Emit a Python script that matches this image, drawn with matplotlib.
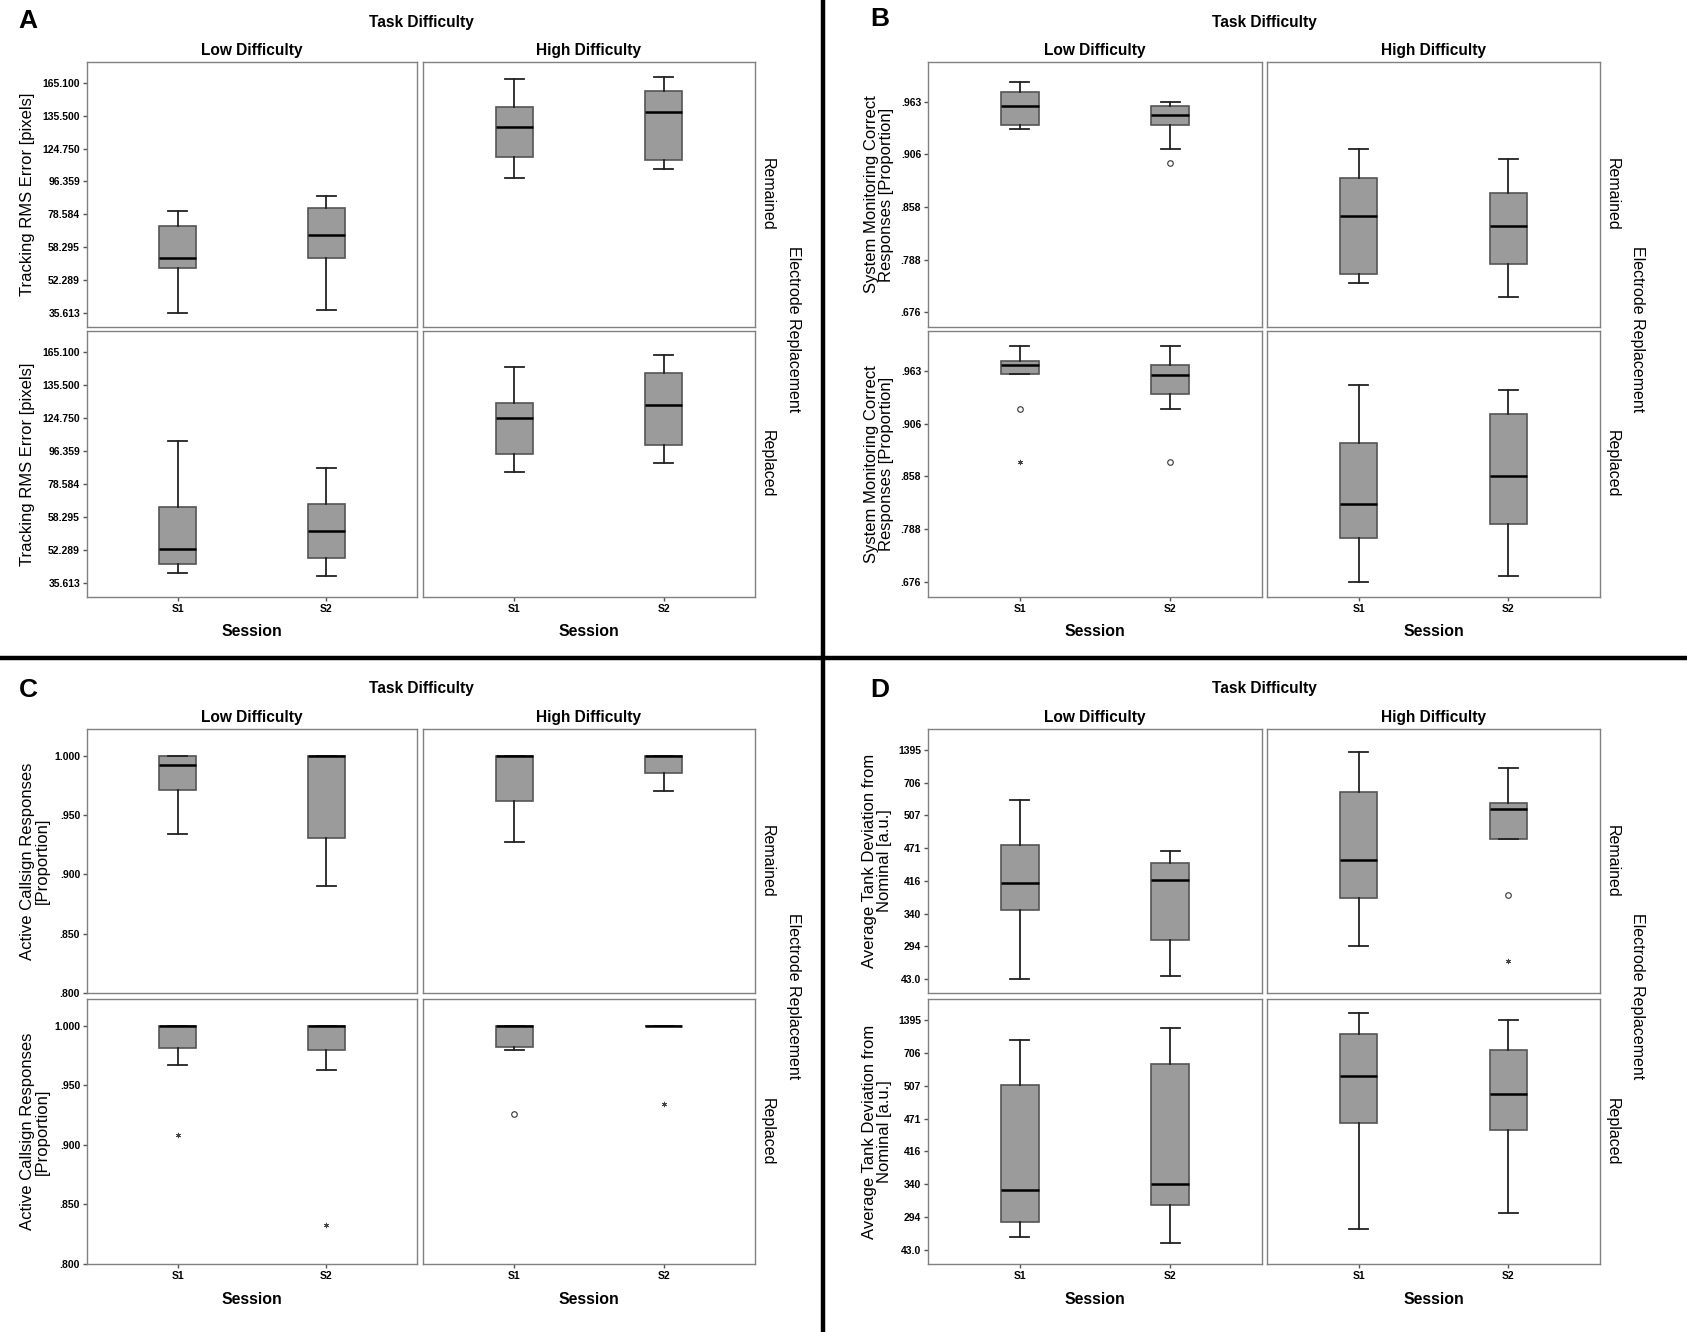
import numpy as np
import matplotlib
matplotlib.use("Agg")
import matplotlib.pyplot as plt
from matplotlib.lines import Line2D

plt.rcParams['font.family'] = ['Liberation Sans', 'DejaVu Sans']

# ---- data (box stats: whislo, q1, median, q3, whishi), S1 then S2 ----
sessions = ['S1', 'S2']

A_ticks = [35.613, 52.289, 58.295, 78.584, 96.359, 124.750, 135.500, 165.100]
A_labels = ['35.613', '52.289', '58.295', '78.584', '96.359', '124.750', '135.500', '165.100']
A_ylim = (28.3, 184.0)
A_rem_low = [[35.61, 54.51, 56.19, 71.28, 80.36], [37.11, 56.19, 65.80, 81.96, 88.36]]
A_rem_high = [[98.91, 117.37, 131.74, 143.79, 168.36], [106.86, 114.53, 138.46, 157.40, 170.72]]
A_rep_low = [[40.28, 44.95, 52.35, 63.98, 104.59], [38.78, 48.12, 55.65, 66.00, 86.94]]
A_rep_high = [[85.16, 94.76, 124.86, 129.59, 151.48], [89.96, 101.75, 128.84, 146.16, 162.44]]

B_ticks = [.676, .788, .858, .906, .963]
B_labels = ['.676', '.788', '.858', '.906', '.963']
B_ylim = (.6446, 1.0058)
B_rem_low = [[.9328, .9374, .9584, .9733, .9844], [.9117, .9374, .9482, .9579, .9630]]
B_rem_high = [[.7387, .7578, .8461, .8844, .9117], [.7074, .7790, .8328, .8710, .9017]]
B_rep_low = [[.9590, .9590, .9687, .9733, .9892], [.9220, .9379, .9584, .9687, .9892]]
B_rep_high = [[.6771, .7690, .8209, .8887, .9476], [.6883, .7950, .8585, .9163, .9419]]
B_circles = {('rem', 'low'): [[], [.8978]], ('rep', 'low'): [[.9220], [.8714]]}
B_stars = {('rep', 'low'): [[.8714], []]}

C_ticks = [.800, .850, .900, .950, 1.000]
C_labels = ['.800', '.850', '.900', '.950', '1.000']
C_ylim = (.800, 1.0225)
C_rem_low = [[.934, .971, .992, 1.0, 1.0], [.890, .9306, 1.0, 1.0, 1.0]]
C_rem_high = [[.927, .962, 1.0, 1.0, 1.0], [.970, .985, 1.0, 1.0, 1.0]]
C_rep_low = [[.967, .9817, 1.0, 1.0, 1.0], [.963, .980, 1.0, 1.0, 1.0]]
C_rep_high = [[.980, .982, 1.0, 1.0, 1.0], [1.0, 1.0, 1.0, 1.0, 1.0]]
C_circles = {('rep', 'high'): [[.926], []]}
C_stars = {('rep', 'low'): [[.908], [.833]], ('rep', 'high'): [[], [.934]]}

D_ticks = [43.0, 294, 340, 416, 471, 507, 706, 1395]
D_labels = ['43.0', '294', '340', '416', '471', '507', '706', '1395']
D_ylim = (-64.9, 1836)
D_rem_low = [[45.5, 347.6, 409.9, 474.2, 602.5], [68.1, 302.7, 416.6, 446.3, 466.1]]
D_rem_high = [[294.0, 375.0, 451.8, 650.3, 1353.7], [481.4, 481.4, 544.8, 580.6, 1016.1]]
D_rep_low = [[140.9, 256.4, 332.2, 509.0, 974.7], [95.7, 311.5, 341.5, 638.3, 1222.8]]
D_rep_high = [[206.2, 462.8, 564.7, 1091.8, 1532.8], [299.1, 451.8, 498.0, 774.9, 1401.9]]
D_circles = {('rem', 'high'): [[], [382.6]]}
D_stars = {('rem', 'high'): [[], [181.1]]}

W, H = 1687, 1332
fig = plt.figure(figsize=(W / 100, H / 100), dpi=100)


def seg_scale(vals):
    # tick values are spaced evenly on the axis, straight lines between them
    v = np.asarray(vals, float)
    k = np.arange(len(v), dtype=float)

    def fwd(x):
        x = np.asarray(x, float)
        out = np.interp(x, v, k)
        out = np.where(x < v[0], (x - v[0]) / (v[1] - v[0]), out)
        out = np.where(x > v[-1], k[-1] + (x - v[-1]) / (v[-1] - v[-2]), out)
        return out

    def inv(y):
        y = np.asarray(y, float)
        out = np.interp(y, k, v)
        out = np.where(y < 0, v[0] + y * (v[1] - v[0]), out)
        out = np.where(y > k[-1], v[-1] + (y - k[-1]) * (v[-1] - v[-2]), out)
        return out
    return fwd, inv


def px_axes(x0, x1, y0, y1):
    return fig.add_axes([x0 / W, 1 - y1 / H, (x1 - x0) / W, (y1 - y0) / H])


def ftext(x, y, s, **kw):
    fig.text(x / W, 1 - y / H, s, **kw)


def draw_cell(ax, boxes, circles, stars, ticks, labels, ylim, linear, show_y, show_x):
    if not linear:
        ax.set_yscale('function', functions=seg_scale(ticks))
    stats = []
    for b in boxes:
        stats.append(dict(whislo=b[0], q1=b[1], med=b[2], q3=b[3], whishi=b[4], fliers=[]))
    ax.bxp(stats, positions=[1, 2], widths=0.25, patch_artist=True, showfliers=False,
           boxprops=dict(facecolor='#9b9b9b', edgecolor='#555555', linewidth=1.2),
           medianprops=dict(color='black', linewidth=1.8),
           whiskerprops=dict(color='#222222', linewidth=1.3),
           capprops=dict(color='#222222', linewidth=1.3))
    for i, vals in enumerate(circles):
        if vals:
            ax.plot([i + 1] * len(vals), vals, 'o', mfc='none', mec='#333333', ms=4, mew=0.8)
    for i, vals in enumerate(stars):
        if vals:
            ax.plot([i + 1] * len(vals), vals, marker=(6, 2, 0), ls='none', color='#444444',
                    ms=3.8, mew=0.6)
    ax.set_xlim(0.389, 2.611)
    ax.set_ylim(*ylim)
    for sp in ax.spines.values():
        sp.set_color('#808080')
        sp.set_linewidth(1.0)
    ax.set_yticks(ticks)
    ax.set_xticks([1, 2])
    ax.minorticks_off()
    if show_y:
        ax.set_yticklabels(labels, fontsize=7.5, fontweight='bold')
    else:
        ax.set_yticklabels([])
    if show_x:
        ax.set_xticklabels(sessions, fontsize=7.5, fontweight='bold')
    else:
        ax.set_xticklabels([])
    ax.tick_params(direction='out', length=3, width=1, color='#555555', pad=2)
    if not show_y:
        ax.tick_params(axis='y', length=0)
    if not show_x:
        ax.tick_params(axis='x', length=0)


def draw_panel(letter, cols, rows, cells, circles, stars, ticks, labels, ylim, linear,
               ylabel, ylabel_x, letter_xy):
    for r, rkey in enumerate(['rem', 'rep']):
        for c, ckey in enumerate(['low', 'high']):
            ax = px_axes(cols[c][0], cols[c][1], rows[r][0], rows[r][1])
            draw_cell(ax, cells[(rkey, ckey)], circles.get((rkey, ckey), [[], []]),
                      stars.get((rkey, ckey), [[], []]), ticks, labels, ylim, linear,
                      show_y=(c == 0), show_x=(r == 1))
        ftext(ylabel_x, (rows[r][0] + rows[r][1]) / 2, ylabel, rotation=90, ha='center',
              va='center', fontsize=12, multialignment='center', linespacing=1.05)
    right = cols[1][1]
    top = rows[0][0]
    bottom = rows[1][1]
    ftext(letter_xy[0], letter_xy[1], letter, fontsize=19, fontweight='bold', ha='left', va='center')
    ftext((cols[0][0] + right) / 2, top - 40, 'Task Difficulty', fontsize=11.2,
          fontweight='bold', ha='center', va='center')
    for c, name in enumerate(['Low Difficulty', 'High Difficulty']):
        cx = (cols[c][0] + cols[c][1]) / 2
        ftext(cx, top - 12, name, fontsize=11.2, fontweight='bold', ha='center', va='center')
        ftext(cx, bottom + 35, 'Session', fontsize=11.4, fontweight='bold', ha='center', va='center')
    for r, name in enumerate(['Remained', 'Replaced']):
        ftext(right + 12, (rows[r][0] + rows[r][1]) / 2, name, rotation=-90, fontsize=11.5,
              ha='center', va='center')
    ftext(right + 38, (top + bottom) / 2, 'Electrode Replacement', rotation=-90, fontsize=11.5,
          ha='center', va='center')


left_cols = [(87, 417), (423, 755)]
right_cols = [(928, 1262), (1267, 1600)]
top_rows = [(62, 327), (331, 597)]
bot_rows = [(729, 993), (999, 1264)]

draw_panel('A', left_cols, top_rows,
           {('rem', 'low'): A_rem_low, ('rem', 'high'): A_rem_high,
            ('rep', 'low'): A_rep_low, ('rep', 'high'): A_rep_high},
           {}, {}, A_ticks, A_labels, A_ylim, False,
           'Tracking RMS Error [pixels]', 28, (18, 21))
draw_panel('B', right_cols, top_rows,
           {('rem', 'low'): B_rem_low, ('rem', 'high'): B_rem_high,
            ('rep', 'low'): B_rep_low, ('rep', 'high'): B_rep_high},
           B_circles, B_stars, B_ticks, B_labels, B_ylim, False,
           'System Monitoring Correct\nResponses [Proportion]', 879, (870, 19))
draw_panel('C', left_cols, bot_rows,
           {('rem', 'low'): C_rem_low, ('rem', 'high'): C_rem_high,
            ('rep', 'low'): C_rep_low, ('rep', 'high'): C_rep_high},
           C_circles, C_stars, C_ticks, C_labels, C_ylim, True,
           'Active Callsign Responses\n[Proportion]', 35, (19, 690))
draw_panel('D', right_cols, bot_rows,
           {('rem', 'low'): D_rem_low, ('rem', 'high'): D_rem_high,
            ('rep', 'low'): D_rep_low, ('rep', 'high'): D_rep_high},
           D_circles, D_stars, D_ticks, D_labels, D_ylim, False,
           'Average Tank Deviation from\nNominal [a.u.]', 877, (870, 690))

# thick dividers between the four panels
fig.add_artist(Line2D([823 / W, 823 / W], [0, 1], color='black', lw=3.2, transform=fig.transFigure))
fig.add_artist(Line2D([0, 1], [1 - 658 / H, 1 - 658 / H], color='black', lw=3.2,
                      transform=fig.transFigure))

fig.savefig('out.png', dpi=100, facecolor='white')
